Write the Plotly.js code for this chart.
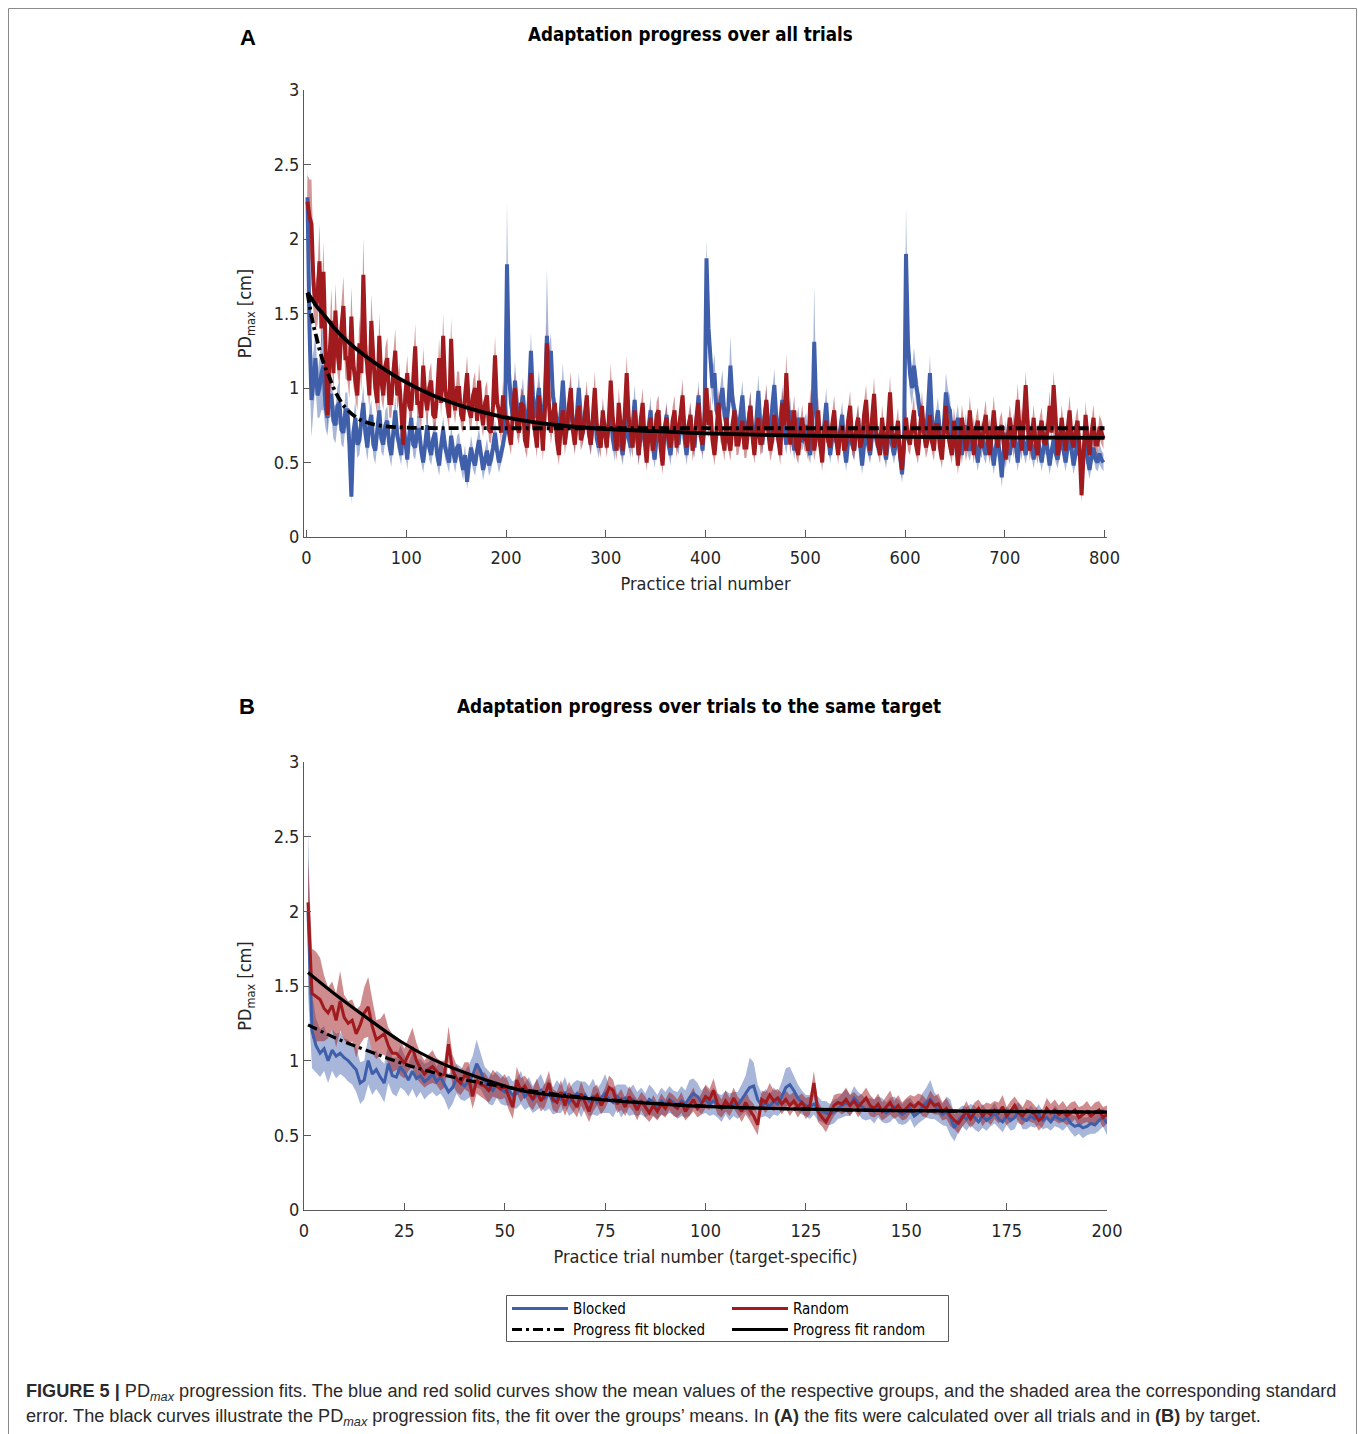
<!DOCTYPE html>
<html>
<head>
<meta charset="utf-8">
<script src="https://cdn.plot.ly/plotly-3.0.1.min.js"></script>
<style>
html,body{margin:0;padding:0;background:#fff;}
#chart{width:1358px;height:1434px;}
</style>
</head>
<body>
<div id="chart"></div>
<script>
// ---------------- DATA ----------------
// Panel A: every 2nd practice trial (1, 3, 5, ... 799)
const trialsA = Array.from({length: 400}, (_, i) => 1 + 2 * i);
const blockedMeanA = [
2.28,1.40,0.92,1.05,1.20,0.95,1.00,1.10,1.15,0.88,0.80,0.95,0.95,0.78,0.75,0.88,0.90,0.72,0.70,0.85,
0.85,0.62,0.27,0.70,0.80,0.62,0.65,0.78,0.90,0.70,0.60,0.75,0.82,0.62,0.58,0.72,0.85,0.66,0.62,0.75,
0.78,0.62,0.55,0.70,0.85,0.68,0.62,0.55,0.78,0.65,0.52,0.68,0.80,0.62,0.60,0.72,0.72,0.58,0.50,0.62,
0.75,0.60,0.55,0.66,0.70,0.55,0.48,0.62,0.72,0.60,0.55,0.50,0.68,0.58,0.50,0.60,0.62,0.52,0.45,0.55,
0.37,0.50,0.60,0.52,0.48,0.58,0.65,0.55,0.45,0.52,0.58,0.48,0.52,0.60,0.70,0.58,0.50,0.56,0.62,0.70,
1.83,1.10,0.90,0.80,1.05,0.88,0.75,0.85,0.95,0.80,0.70,0.92,1.25,0.95,0.80,0.88,1.00,0.82,0.75,0.95,
1.35,1.10,1.25,0.95,0.85,0.78,0.70,0.85,1.05,0.82,0.72,0.80,0.95,0.75,0.65,0.82,1.00,0.80,0.70,0.78,
0.90,0.72,0.62,0.78,0.85,0.66,0.60,0.72,0.80,0.68,0.65,0.76,0.85,0.66,0.58,0.70,0.78,0.62,0.55,0.68,
0.80,0.66,0.60,0.75,0.92,0.70,0.55,0.68,0.78,0.64,0.62,0.74,0.85,0.62,0.52,0.66,0.75,0.64,0.58,0.72,
0.82,0.62,0.55,0.70,0.78,0.66,0.62,0.75,0.88,0.66,0.55,0.68,0.80,0.66,0.60,0.78,0.95,0.72,0.58,0.75,
1.87,1.40,1.20,1.00,1.10,0.85,0.80,0.92,1.00,0.82,0.75,0.88,1.15,0.92,0.85,0.78,0.70,0.82,0.95,0.75,
0.65,0.78,0.88,0.70,0.60,0.78,0.98,0.75,0.62,0.80,0.90,0.72,0.70,0.88,1.02,0.80,0.65,0.78,0.92,0.72,
0.62,0.75,0.85,0.68,0.58,0.70,0.80,0.66,0.65,0.72,0.75,0.62,0.55,0.72,1.31,0.85,0.70,0.62,0.60,0.75,
0.90,0.70,0.55,0.66,0.78,0.64,0.62,0.72,0.82,0.62,0.50,0.64,0.75,0.62,0.58,0.70,0.80,0.62,0.48,0.62,
0.75,0.62,0.55,0.68,0.80,0.66,0.60,0.68,0.72,0.60,0.52,0.64,0.78,0.62,0.55,0.64,0.70,0.55,0.42,0.60,
1.90,1.30,1.10,1.00,1.15,1.02,0.95,0.82,0.80,0.72,0.70,0.85,1.10,0.80,0.65,0.75,0.85,0.70,0.60,0.75,
0.97,0.88,0.85,0.70,0.60,0.72,0.80,0.66,0.55,0.66,0.75,0.62,0.58,0.66,0.72,0.60,0.50,0.62,0.70,0.60,
0.55,0.66,0.72,0.58,0.48,0.60,0.68,0.55,0.40,0.58,0.70,0.60,0.55,0.66,0.75,0.62,0.50,0.64,0.78,0.62,
0.55,0.64,0.72,0.60,0.52,0.62,0.68,0.58,0.50,0.60,0.70,0.58,0.48,0.58,0.65,0.56,0.52,0.60,0.68,0.58,
0.50,0.60,0.70,0.58,0.48,0.56,0.65,0.55,0.52,0.58,0.62,0.52,0.45,0.54,0.60,0.52,0.50,0.56,0.52,0.50];
const blockedSeA = [
0.20,0.30,0.25,0.20,0.18,0.15,0.20,0.25,0.30,0.15,0.12,0.14,0.15,0.12,0.12,0.13,0.14,0.10,0.10,0.12,
0.12,0.09,0.05,0.10,0.12,0.09,0.10,0.11,0.12,0.09,0.09,0.10,0.10,0.08,0.09,0.10,0.12,0.09,0.08,0.10,
0.10,0.08,0.08,0.09,0.10,0.08,0.08,0.07,0.09,0.08,0.07,0.08,0.10,0.08,0.08,0.09,0.09,0.08,0.07,0.08,
0.09,0.08,0.07,0.08,0.08,0.07,0.07,0.08,0.09,0.08,0.07,0.07,0.08,0.07,0.07,0.08,0.08,0.07,0.07,0.07,
0.05,0.07,0.08,0.07,0.07,0.08,0.08,0.07,0.07,0.07,0.08,0.07,0.07,0.08,0.09,0.08,0.07,0.07,0.08,0.08,
0.42,0.15,0.12,0.10,0.13,0.10,0.09,0.10,0.12,0.09,0.08,0.10,0.12,0.10,0.09,0.10,0.12,0.09,0.08,0.10,
0.45,0.15,0.12,0.10,0.10,0.09,0.08,0.09,0.12,0.09,0.08,0.09,0.11,0.08,0.08,0.09,0.10,0.09,0.08,0.08,
0.10,0.08,0.07,0.08,0.09,0.07,0.07,0.08,0.09,0.07,0.07,0.08,0.09,0.07,0.07,0.08,0.08,0.07,0.07,0.07,
0.09,0.07,0.07,0.08,0.10,0.08,0.07,0.07,0.08,0.07,0.07,0.08,0.09,0.07,0.06,0.07,0.08,0.07,0.07,0.08,
0.09,0.07,0.07,0.08,0.08,0.07,0.07,0.08,0.10,0.07,0.07,0.08,0.09,0.07,0.07,0.08,0.10,0.08,0.07,0.08,
0.13,0.15,0.15,0.12,0.13,0.09,0.09,0.10,0.12,0.09,0.08,0.10,0.20,0.12,0.09,0.08,0.08,0.09,0.10,0.08,
0.07,0.08,0.10,0.08,0.07,0.09,0.11,0.08,0.07,0.09,0.10,0.08,0.08,0.10,0.11,0.09,0.07,0.08,0.10,0.08,
0.07,0.08,0.09,0.07,0.06,0.08,0.08,0.07,0.07,0.08,0.08,0.07,0.06,0.08,0.38,0.10,0.08,0.07,0.07,0.08,
0.10,0.08,0.06,0.07,0.09,0.07,0.07,0.08,0.09,0.07,0.06,0.07,0.08,0.07,0.06,0.07,0.09,0.07,0.06,0.07,
0.08,0.07,0.06,0.07,0.09,0.07,0.06,0.07,0.08,0.07,0.06,0.07,0.09,0.07,0.06,0.07,0.08,0.06,0.06,0.07,
0.32,0.18,0.14,0.12,0.12,0.12,0.10,0.09,0.09,0.08,0.08,0.09,0.12,0.09,0.07,0.08,0.09,0.08,0.07,0.08,
0.13,0.11,0.10,0.08,0.07,0.08,0.09,0.07,0.06,0.07,0.08,0.07,0.07,0.07,0.08,0.07,0.06,0.07,0.08,0.07,
0.06,0.07,0.08,0.07,0.06,0.07,0.08,0.06,0.07,0.07,0.08,0.07,0.06,0.07,0.08,0.07,0.06,0.07,0.09,0.07,
0.06,0.07,0.08,0.07,0.06,0.07,0.08,0.06,0.06,0.07,0.08,0.07,0.06,0.07,0.07,0.06,0.06,0.07,0.08,0.07,
0.06,0.07,0.08,0.07,0.06,0.07,0.07,0.06,0.06,0.07,0.07,0.06,0.06,0.07,0.07,0.06,0.06,0.07,0.06,0.06];
const randomMeanA = [
2.25,2.15,2.10,1.70,1.55,1.60,1.85,1.40,1.78,1.30,0.82,1.20,1.45,1.10,1.52,1.25,1.12,1.40,1.55,1.20,
1.20,1.05,1.48,1.15,1.05,0.95,1.30,1.10,1.76,1.25,1.15,0.95,1.45,1.20,1.00,0.90,1.35,1.05,0.95,1.15,
1.20,0.90,0.90,1.10,1.25,0.95,1.05,0.85,0.62,0.95,1.10,0.88,0.85,1.05,1.28,0.90,0.90,0.80,1.15,0.95,
0.85,1.00,1.05,0.82,0.80,0.95,1.20,0.90,1.35,1.00,0.90,0.80,1.33,0.95,0.85,1.00,1.00,0.82,0.78,0.95,
1.10,0.85,0.80,0.95,1.00,0.78,1.05,0.85,0.75,0.90,0.95,0.72,0.70,0.88,1.22,0.90,0.85,0.70,0.95,0.80,
0.80,0.70,0.62,0.85,1.00,0.75,0.70,0.90,0.88,0.65,0.60,0.80,1.10,0.78,0.72,0.60,0.95,0.80,0.58,0.85,
1.30,0.90,0.70,0.82,0.90,0.65,0.55,0.75,0.85,0.62,0.75,0.88,1.00,0.72,0.62,0.80,0.88,0.65,0.70,0.82,
0.95,0.70,0.62,0.80,1.00,0.75,0.68,0.60,0.85,0.72,0.60,0.78,1.05,0.80,0.70,0.58,0.90,0.75,0.58,0.82,
1.10,0.80,0.70,0.60,0.85,0.72,0.55,0.78,0.90,0.65,0.50,0.70,0.80,0.58,0.65,0.82,0.85,0.60,0.48,0.72,
0.80,0.65,0.60,0.78,0.85,0.60,0.72,0.82,0.95,0.70,0.60,0.75,0.82,0.58,0.66,0.80,0.90,0.68,0.62,0.80,
1.00,0.75,0.85,0.65,0.55,0.70,0.90,0.72,0.68,0.58,0.80,0.66,0.58,0.75,0.85,0.62,0.62,0.72,0.78,0.60,
0.60,0.75,0.88,0.68,0.55,0.72,0.80,0.62,0.65,0.78,0.92,0.70,0.58,0.65,0.82,0.72,0.66,0.55,0.90,0.75,
1.10,0.80,0.62,0.75,0.85,0.60,0.55,0.70,0.80,0.66,0.65,0.58,0.90,0.72,0.58,0.68,0.85,0.62,0.50,0.72,
0.78,0.64,0.60,0.75,0.85,0.66,0.55,0.70,0.75,0.58,0.62,0.78,0.88,0.65,0.58,0.72,0.80,0.60,0.65,0.82,
0.92,0.70,0.58,0.80,0.96,0.72,0.62,0.55,0.80,0.66,0.55,0.75,0.97,0.70,0.60,0.68,0.78,0.55,0.45,0.65,
0.80,0.66,0.62,0.75,0.85,0.62,0.55,0.72,0.88,0.70,0.60,0.66,0.82,0.64,0.58,0.75,0.75,0.60,0.52,0.70,
0.88,0.70,0.62,0.55,0.78,0.66,0.48,0.62,0.80,0.70,0.58,0.66,0.85,0.68,0.55,0.72,0.78,0.62,0.60,0.75,
0.82,0.64,0.55,0.70,0.85,0.68,0.60,0.72,0.75,0.62,0.52,0.66,0.80,0.70,0.60,0.75,0.92,0.70,0.58,0.78,
1.02,0.75,0.58,0.66,0.80,0.62,0.55,0.72,0.78,0.64,0.62,0.72,0.88,0.70,1.02,0.80,0.55,0.62,0.80,0.68,
0.58,0.72,0.85,0.66,0.60,0.72,0.78,0.60,0.28,0.55,0.82,0.66,0.55,0.70,0.80,0.62,0.62,0.74,0.70,0.66];
const randomSeA = [
0.18,0.25,0.30,0.20,0.15,0.18,0.25,0.15,0.20,0.14,0.12,0.15,0.22,0.14,0.18,0.15,0.12,0.16,0.20,0.14,
0.15,0.12,0.20,0.14,0.12,0.10,0.18,0.12,0.25,0.15,0.12,0.10,0.18,0.14,0.10,0.09,0.15,0.12,0.10,0.12,
0.14,0.10,0.10,0.12,0.15,0.10,0.12,0.09,0.08,0.10,0.12,0.09,0.10,0.12,0.15,0.10,0.10,0.09,0.12,0.10,
0.10,0.11,0.12,0.09,0.09,0.10,0.13,0.10,0.15,0.11,0.10,0.09,0.14,0.10,0.09,0.11,0.11,0.09,0.08,0.10,
0.12,0.09,0.09,0.10,0.11,0.08,0.12,0.09,0.08,0.10,0.10,0.08,0.07,0.09,0.13,0.10,0.09,0.08,0.10,0.09,
0.09,0.08,0.07,0.09,0.11,0.08,0.08,0.10,0.10,0.07,0.07,0.09,0.12,0.09,0.08,0.07,0.10,0.09,0.07,0.09,
0.13,0.10,0.08,0.09,0.10,0.07,0.07,0.08,0.09,0.07,0.08,0.10,0.11,0.08,0.07,0.09,0.10,0.07,0.08,0.09,
0.10,0.08,0.07,0.09,0.11,0.08,0.08,0.07,0.09,0.08,0.07,0.09,0.12,0.09,0.08,0.07,0.10,0.08,0.07,0.09,
0.12,0.09,0.08,0.07,0.09,0.08,0.07,0.09,0.10,0.07,0.06,0.08,0.09,0.07,0.08,0.09,0.10,0.07,0.06,0.08,
0.09,0.07,0.07,0.09,0.10,0.07,0.08,0.09,0.11,0.08,0.07,0.08,0.09,0.07,0.08,0.09,0.10,0.08,0.07,0.09,
0.11,0.09,0.10,0.08,0.07,0.08,0.10,0.08,0.08,0.07,0.09,0.08,0.07,0.08,0.10,0.07,0.07,0.08,0.09,0.07,
0.07,0.08,0.10,0.08,0.06,0.08,0.09,0.07,0.08,0.09,0.11,0.08,0.07,0.08,0.10,0.08,0.08,0.07,0.10,0.09,
0.13,0.09,0.07,0.08,0.10,0.07,0.06,0.08,0.09,0.08,0.08,0.07,0.10,0.08,0.07,0.08,0.09,0.07,0.06,0.08,
0.09,0.08,0.07,0.08,0.10,0.08,0.06,0.08,0.09,0.07,0.07,0.09,0.10,0.08,0.07,0.08,0.09,0.07,0.08,0.09,
0.10,0.08,0.07,0.09,0.11,0.08,0.07,0.06,0.09,0.08,0.06,0.08,0.11,0.08,0.07,0.08,0.09,0.07,0.06,0.08,
0.09,0.08,0.07,0.09,0.10,0.07,0.06,0.08,0.10,0.08,0.07,0.08,0.09,0.07,0.07,0.08,0.09,0.07,0.06,0.08,
0.10,0.08,0.07,0.06,0.09,0.08,0.06,0.07,0.09,0.08,0.07,0.08,0.10,0.08,0.06,0.08,0.09,0.07,0.07,0.08,
0.10,0.07,0.06,0.08,0.10,0.08,0.07,0.08,0.09,0.07,0.06,0.08,0.09,0.08,0.07,0.08,0.11,0.08,0.07,0.09,
0.09,0.08,0.07,0.08,0.09,0.07,0.06,0.08,0.09,0.07,0.07,0.08,0.10,0.08,0.09,0.09,0.06,0.07,0.09,0.08,
0.07,0.08,0.10,0.08,0.07,0.08,0.09,0.07,0.05,0.06,0.09,0.08,0.06,0.08,0.09,0.07,0.07,0.08,0.08,0.07];
// Progress fits, panel A (values read at selected trials)
const fitTrialsBlockedA = [1,4,7,10,13,17,23,30,40,53,65,80,100,130,200,400,600,800];
const fitBlockedA = [1.64,1.52,1.42,1.34,1.26,1.17,1.07,0.96,0.86,0.79,0.76,0.742,0.734,0.731,0.73,0.73,0.73,0.73];
const fitTrialsRandomA = [1,5,10,15,20,27,40,60,94,127,160,194,224,260,300,350,400,500,600,700,800];
const fitRandomA = [1.64,1.60,1.55,1.51,1.47,1.41,1.32,1.21,1.06,0.95,0.87,0.81,0.775,0.745,0.725,0.71,0.695,0.68,0.672,0.668,0.665];

// Panel B: target-specific trials 1..200
const trialsB = Array.from({length: 200}, (_, i) => i + 1);
const blockedMeanB = [
2.00,1.20,1.10,1.05,1.08,1.00,1.07,1.03,1.05,1.02,
1.00,0.97,0.94,0.85,0.87,1.00,0.91,0.94,0.89,0.85,
0.98,0.90,0.89,0.96,0.92,0.87,0.93,0.88,0.90,0.86,
0.88,0.91,0.86,0.89,0.84,0.79,0.82,0.88,0.85,0.83,
0.86,0.90,0.98,0.93,0.86,0.82,0.80,0.84,0.81,0.79,
0.80,0.77,0.78,0.82,0.76,0.79,0.74,0.77,0.80,0.75,
0.78,0.73,0.76,0.74,0.79,0.72,0.75,0.78,0.74,0.77,
0.73,0.76,0.72,0.75,0.78,0.74,0.72,0.76,0.73,0.75,
0.72,0.74,0.71,0.73,0.70,0.74,0.72,0.69,0.73,0.71,
0.74,0.72,0.70,0.73,0.71,0.75,0.78,0.76,0.72,0.74,
0.71,0.73,0.70,0.68,0.72,0.69,0.71,0.70,0.74,0.78,
0.82,0.83,0.74,0.70,0.72,0.69,0.73,0.71,0.76,0.82,
0.84,0.80,0.75,0.72,0.70,0.69,0.71,0.68,0.66,0.65,
0.64,0.66,0.68,0.70,0.72,0.70,0.75,0.72,0.69,0.67,
0.68,0.66,0.69,0.67,0.65,0.67,0.69,0.66,0.64,0.66,
0.68,0.63,0.65,0.69,0.72,0.74,0.70,0.67,0.64,0.66,
0.62,0.55,0.60,0.63,0.61,0.64,0.62,0.59,0.63,0.60,
0.62,0.65,0.61,0.59,0.63,0.60,0.62,0.66,0.61,0.60,
0.63,0.61,0.64,0.60,0.62,0.59,0.63,0.61,0.60,0.62,
0.58,0.56,0.57,0.55,0.56,0.58,0.57,0.60,0.62,0.58];
const blockedSeB = [
0.55,0.25,0.18,0.16,0.15,0.15,0.14,0.15,0.14,0.13,
0.14,0.13,0.15,0.14,0.13,0.16,0.14,0.13,0.12,0.13,
0.13,0.12,0.13,0.14,0.12,0.11,0.12,0.13,0.11,0.12,
0.11,0.12,0.10,0.11,0.10,0.12,0.11,0.10,0.11,0.10,
0.11,0.13,0.16,0.12,0.10,0.11,0.10,0.09,0.10,0.09,
0.10,0.09,0.10,0.11,0.09,0.10,0.09,0.10,0.11,0.09,
0.10,0.09,0.11,0.09,0.10,0.09,0.10,0.09,0.12,0.09,
0.10,0.12,0.09,0.10,0.13,0.09,0.10,0.08,0.11,0.09,
0.09,0.10,0.08,0.09,0.08,0.10,0.09,0.08,0.09,0.08,
0.09,0.08,0.09,0.10,0.09,0.12,0.10,0.09,0.08,0.09,
0.08,0.09,0.08,0.09,0.08,0.09,0.08,0.09,0.10,0.12,
0.20,0.16,0.10,0.08,0.09,0.08,0.09,0.08,0.10,0.13,
0.12,0.10,0.09,0.08,0.07,0.08,0.07,0.08,0.07,0.08,
0.07,0.08,0.07,0.08,0.09,0.07,0.08,0.07,0.08,0.07,
0.07,0.08,0.07,0.08,0.07,0.08,0.07,0.08,0.07,0.08,
0.07,0.08,0.07,0.09,0.10,0.13,0.09,0.08,0.07,0.10,
0.12,0.09,0.08,0.07,0.08,0.07,0.08,0.07,0.08,0.07,
0.06,0.07,0.06,0.07,0.06,0.07,0.08,0.06,0.07,0.06,
0.07,0.06,0.07,0.06,0.07,0.06,0.07,0.06,0.07,0.06,
0.06,0.07,0.06,0.07,0.06,0.07,0.06,0.07,0.06,0.08];
const randomMeanB = [
2.06,1.45,1.43,1.41,1.35,1.32,1.37,1.27,1.40,1.29,
1.25,1.27,1.18,1.24,1.32,1.36,1.23,1.14,1.16,1.18,
1.10,1.05,1.05,1.02,0.98,1.04,1.09,1.00,0.95,0.91,
0.94,0.96,0.93,0.90,0.91,1.11,0.94,0.88,0.85,0.90,
0.89,0.76,0.87,0.84,0.83,0.80,0.85,0.83,0.81,0.83,
0.76,0.69,0.87,0.80,0.83,0.78,0.74,0.80,0.73,0.77,
0.85,0.74,0.72,0.79,0.70,0.78,0.73,0.69,0.78,0.72,
0.66,0.74,0.77,0.70,0.75,0.82,0.80,0.71,0.74,0.69,
0.76,0.72,0.67,0.73,0.69,0.65,0.70,0.66,0.71,0.68,
0.73,0.70,0.68,0.72,0.66,0.70,0.74,0.68,0.71,0.76,
0.74,0.80,0.71,0.68,0.73,0.69,0.75,0.70,0.66,0.72,
0.67,0.63,0.57,0.74,0.72,0.77,0.73,0.75,0.71,0.74,
0.70,0.73,0.69,0.72,0.68,0.70,0.85,0.66,0.62,0.59,
0.64,0.70,0.72,0.71,0.74,0.70,0.73,0.69,0.72,0.75,
0.70,0.68,0.71,0.66,0.69,0.72,0.67,0.70,0.66,0.68,
0.71,0.69,0.72,0.70,0.68,0.73,0.70,0.71,0.66,0.68,
0.63,0.60,0.58,0.62,0.66,0.61,0.65,0.68,0.63,0.66,
0.64,0.67,0.65,0.69,0.63,0.66,0.70,0.65,0.63,0.67,
0.66,0.64,0.60,0.62,0.68,0.65,0.67,0.64,0.66,0.63,
0.65,0.67,0.62,0.64,0.66,0.63,0.65,0.67,0.62,0.64];
const randomSeB = [
0.30,0.30,0.30,0.28,0.22,0.17,0.16,0.18,0.20,0.15,
0.15,0.14,0.16,0.13,0.17,0.20,0.18,0.13,0.12,0.14,
0.12,0.13,0.11,0.12,0.10,0.11,0.13,0.12,0.10,0.09,
0.10,0.11,0.09,0.10,0.09,0.12,0.10,0.09,0.08,0.09,
0.10,0.08,0.09,0.08,0.09,0.08,0.09,0.08,0.07,0.08,
0.09,0.08,0.09,0.08,0.07,0.08,0.07,0.08,0.07,0.08,
0.08,0.07,0.07,0.08,0.07,0.08,0.07,0.07,0.08,0.07,
0.07,0.08,0.07,0.06,0.07,0.08,0.07,0.06,0.07,0.06,
0.07,0.06,0.07,0.06,0.07,0.06,0.07,0.06,0.07,0.06,
0.06,0.07,0.06,0.07,0.06,0.07,0.08,0.06,0.07,0.08,
0.07,0.08,0.07,0.06,0.07,0.06,0.07,0.06,0.07,0.08,
0.07,0.08,0.07,0.06,0.07,0.08,0.07,0.06,0.07,0.06,
0.07,0.06,0.07,0.06,0.07,0.06,0.08,0.07,0.06,0.07,
0.06,0.07,0.06,0.07,0.08,0.07,0.06,0.07,0.06,0.07,
0.07,0.06,0.07,0.06,0.07,0.08,0.06,0.07,0.06,0.07,
0.06,0.07,0.06,0.07,0.06,0.07,0.06,0.07,0.06,0.07,
0.07,0.06,0.07,0.06,0.07,0.06,0.07,0.06,0.07,0.06,
0.07,0.06,0.07,0.08,0.06,0.07,0.06,0.07,0.06,0.07,
0.07,0.06,0.07,0.06,0.07,0.06,0.07,0.06,0.07,0.06,
0.07,0.06,0.07,0.06,0.07,0.06,0.07,0.06,0.07,0.06];
const fitTrialsBlockedB = [1,8,15.5,27,40.5,56,75,100,125,150,175,200];
const fitBlockedB = [1.24,1.15,1.07,0.96,0.87,0.80,0.74,0.695,0.675,0.665,0.66,0.655];
const fitTrialsRandomB = [1,7,15,24,32,40,50,56,65,94,125,150,175,200];
const fitRandomB = [1.59,1.46,1.30,1.13,1.01,0.92,0.83,0.79,0.76,0.70,0.675,0.665,0.66,0.655];

// Axis ticks
const xTicksA = [0,100,200,300,400,500,600,700,800];
const xTicksB = [0,25,50,75,100,125,150,175,200];
const yTicks = [0,0.5,1,1.5,2,2.5,3];
const yTickText = ['0','0.5','1','1.5','2','2.5','3'];

// ---------------- STYLE ----------------
const W = 1358, H = 1434;
const px = v => v / W;
const py = v => 1 - v / H;
const FONT = 'DejaVu Sans Condensed, DejaVu Sans, sans-serif';
const CAPFONT = 'Liberation Sans, Arial, sans-serif';
const BLUE = '#3f5fab', RED = '#a01a1e';
const BLUE_BAND_A = 'rgba(63,95,171,0.45)', RED_BAND_A = 'rgba(160,26,30,0.45)';
const BLUE_BAND_B = 'rgba(63,95,171,0.45)', RED_BAND_B = 'rgba(160,26,30,0.5)';
const DASHDOT = '10px,4px,3px,4px';

function band(x, m, se, xa, ya, color) {
  const up = m.map((v, i) => v + se[i]);
  const lo = m.map((v, i) => v - se[i]);
  return {x: x.concat(x.slice().reverse()), y: up.concat(lo.slice().reverse()),
    xaxis: xa, yaxis: ya, type: 'scatter', mode: 'lines', fill: 'toself',
    fillcolor: color, line: {width: 0, color: color, simplify: false}, hoverinfo: 'skip', showlegend: false};
}
function line(x, y, xa, ya, color, width, dash, shape) {
  return {x: x, y: y, xaxis: xa, yaxis: ya, type: 'scatter', mode: 'lines',
    line: {color: color, width: width, dash: dash || 'solid', shape: shape || 'linear', simplify: false},
    showlegend: false, hoverinfo: 'skip'};
}

const traces = [
  band(trialsA, blockedMeanA, blockedSeA, 'x', 'y', BLUE_BAND_A),
  band(trialsA, randomMeanA, randomSeA, 'x', 'y', RED_BAND_A),
  line(trialsA, blockedMeanA, 'x', 'y', BLUE, 4),
  line(trialsA, randomMeanA, 'x', 'y', RED, 4),
  line(fitTrialsBlockedA, fitBlockedA, 'x', 'y', '#000', 3.8, DASHDOT, 'spline'),
  line(fitTrialsRandomA, fitRandomA, 'x', 'y', '#000', 3.8, 'solid', 'spline'),
  band(trialsB, blockedMeanB, blockedSeB, 'x2', 'y2', BLUE_BAND_B),
  band(trialsB, randomMeanB, randomSeB, 'x2', 'y2', RED_BAND_B),
  line(trialsB, blockedMeanB, 'x2', 'y2', BLUE, 3),
  line(trialsB, randomMeanB, 'x2', 'y2', RED, 3),
  line(fitTrialsBlockedB, fitBlockedB, 'x2', 'y2', '#000', 3.2, DASHDOT, 'spline'),
  line(fitTrialsRandomB, fitRandomB, 'x2', 'y2', '#000', 3.2, 'solid', 'spline')
];

const axBase = {
  showgrid: false, zeroline: false, showline: true, linecolor: '#5a5a5a', linewidth: 1,
  ticks: 'inside', ticklen: 7, tickwidth: 1, tickcolor: '#5a5a5a',
  tickfont: {family: FONT, size: 18, color: '#262626'}, mirror: false, fixedrange: true
};
const xDomain = [px(304), px(1107)];
const titleFont = {family: FONT, size: 18, color: '#262626'};

const layout = {
  width: W, height: H,
  margin: {l: 0, r: 0, t: 0, b: 0},
  paper_bgcolor: '#ffffff', plot_bgcolor: 'rgba(0,0,0,0)',
  showlegend: false,
  font: {family: FONT, size: 18, color: '#262626'},
  xaxis: Object.assign({}, axBase, {domain: xDomain, anchor: 'y', range: [-2.5, 802.5],
    tickmode: 'array', tickvals: xTicksA, ticktext: xTicksA.map(String), ticklabelstandoff: 4,
    title: {text: 'Practice trial number', standoff: 10, font: titleFont}}),
  yaxis: Object.assign({}, axBase, {domain: [py(537), py(90)], anchor: 'x', range: [0, 3],
    tickmode: 'array', tickvals: yTicks, ticktext: yTickText,
    title: {text: 'PD<sub>max</sub> [cm]', standoff: 17, font: titleFont}}),
  xaxis2: Object.assign({}, axBase, {domain: xDomain, anchor: 'y2', range: [0, 200],
    tickmode: 'array', tickvals: xTicksB, ticktext: xTicksB.map(String), ticklabelstandoff: 4,
    title: {text: 'Practice trial number (target-specific)', standoff: 10, font: titleFont}}),
  yaxis2: Object.assign({}, axBase, {domain: [py(1210), py(762)], anchor: 'x2', range: [0, 3],
    tickmode: 'array', tickvals: yTicks, ticktext: yTickText,
    title: {text: 'PD<sub>max</sub> [cm]', standoff: 17, font: titleFont}}),
  annotations: [
    {text: '<b>A</b>', x: px(247.5), y: py(37.5), font: {family: CAPFONT, size: 22, color: '#000'}},
    {text: '<b>B</b>', x: px(246.5), y: py(706.5), font: {family: CAPFONT, size: 22, color: '#000'}},
    {text: '<b>Adaptation progress over all trials</b>', x: px(690.5), y: py(34), font: {family: FONT, size: 18.6, color: '#000'}},
    {text: '<b>Adaptation progress over trials to the same target</b>', x: px(699), y: py(706), font: {family: FONT, size: 18.8, color: '#000'}},
    {text: 'Blocked', x: px(571), y: py(1308.5), xanchor: 'left', font: {family: FONT, size: 15, color: '#000'}},
    {text: 'Random', x: px(791), y: py(1308.5), xanchor: 'left', font: {family: FONT, size: 15, color: '#000'}},
    {text: 'Progress fit blocked', x: px(571), y: py(1329.5), xanchor: 'left', font: {family: FONT, size: 15, color: '#000'}},
    {text: 'Progress fit random', x: px(791), y: py(1329.5), xanchor: 'left', font: {family: FONT, size: 15, color: '#000'}},
    {text: '<b>FIGURE 5 |</b> PD<sub><i>max</i></sub> progression fits. The blue and red solid curves show the mean values of the respective groups, and the shaded area the corresponding standard',
      x: px(24), y: py(1392), xanchor: 'left', font: {family: CAPFONT, size: 18.15, color: '#2a2a2a'}},
    {text: 'error. The black curves illustrate the PD<sub><i>max</i></sub> progression fits, the fit over the groups\u2019 means. In <b>(A)</b> the fits were calculated over all trials and in <b>(B)</b> by target.',
      x: px(24), y: py(1417), xanchor: 'left', font: {family: CAPFONT, size: 18.15, color: '#2a2a2a'}}
  ].map(a => Object.assign({xref: 'paper', yref: 'paper', showarrow: false, xanchor: 'center', yanchor: 'middle'}, a)),
  shapes: [
    {type: 'rect', xref: 'paper', yref: 'paper', x0: px(8.5), x1: px(1356.5), y0: py(1470), y1: py(8.5),
      line: {color: '#8a8a8a', width: 1}, fillcolor: 'rgba(0,0,0,0)'},
    {type: 'rect', xref: 'paper', yref: 'paper', x0: px(506.5), x1: px(948.5), y0: py(1341.5), y1: py(1295.5),
      line: {color: '#5a5a5a', width: 1}, fillcolor: 'rgba(0,0,0,0)'},
    {type: 'line', xref: 'paper', yref: 'paper', x0: px(512), x1: px(568), y0: py(1308.5), y1: py(1308.5), line: {color: BLUE, width: 3}},
    {type: 'line', xref: 'paper', yref: 'paper', x0: px(732), x1: px(788), y0: py(1308.5), y1: py(1308.5), line: {color: RED, width: 3}},
    {type: 'line', xref: 'paper', yref: 'paper', x0: px(512), x1: px(568), y0: py(1329.5), y1: py(1329.5), line: {color: '#000', width: 3, dash: DASHDOT}},
    {type: 'line', xref: 'paper', yref: 'paper', x0: px(732), x1: px(788), y0: py(1329.5), y1: py(1329.5), line: {color: '#000', width: 3}}
  ]
};

Plotly.newPlot('chart', traces, layout, {displayModeBar: false, staticPlot: true});
</script>
</body>
</html>
